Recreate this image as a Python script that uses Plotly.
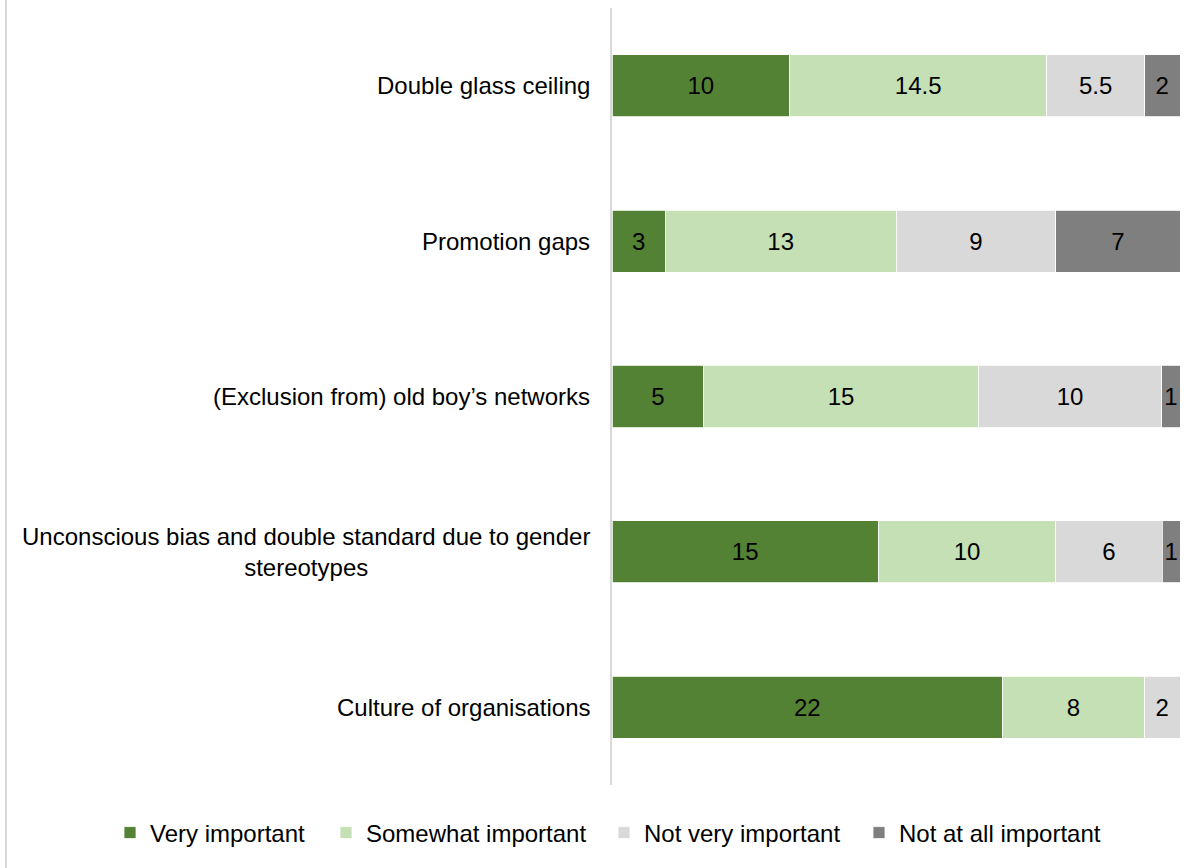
import plotly.graph_objects as go

# Survey responses: perceived importance of barriers, counts per category
categories = [
    "Double glass ceiling",
    "Promotion gaps",
    "(Exclusion from) old boy\u2019s networks",
    "Unconscious bias and double standard due to gender<br>stereotypes",
    "Culture of organisations",
]
very_important = [10, 3, 5, 15, 22]
somewhat_important = [14.5, 13, 15, 10, 8]
not_very_important = [5.5, 9, 10, 6, 2]
not_at_all_important = [2, 7, 1, 1, None]

series = [
    ("Very important", very_important, "#548235"),
    ("Somewhat important", somewhat_important, "#C5E0B4"),
    ("Not very important", not_very_important, "#D9D9D9"),
    ("Not at all important", not_at_all_important, "#7F7F7F"),
]

W, H = 1203, 868
M_L, M_R, M_T, M_B = 612, 23, 8, 83
PLOT_W = W - M_L - M_R
PLOT_H = H - M_T - M_B
FONT = "Liberation Sans, Arial, sans-serif"
FS = 24

# Left edge (px) of each legend entry along the bottom row
LEGEND_LEFT = [110, 326, 604, 859]
LEGEND_MID_Y = 833

fig = go.Figure()
for i, (name, vals, color) in enumerate(series):
    fig.add_trace(go.Bar(
        name=name,
        y=categories,
        x=vals,
        orientation="h",
        marker=dict(color=color, line=dict(color="white", width=0.8)),
        text=[f"{v:g}" if v else "" for v in vals],
        textposition="inside",
        insidetextanchor="middle",
        constraintext="none",
        textfont=dict(family=FONT, size=FS, color="#000000"),
        hoverinfo="skip",
        legend="legend" if i == 0 else f"legend{i + 1}",
    ))

# Category labels, centred per line like the wrapped label
annotations = [
    dict(
        x=0, xref="paper", y=c, yref="y",
        text=c, showarrow=False,
        xanchor="right", yanchor="middle", align="center",
        xshift=-20,
        font=dict(family=FONT, size=FS, color="#000000"),
    )
    for c in categories
]

# Thin frame line on the left edge of the chart area
shapes = [dict(
    type="line", xref="paper", yref="paper",
    x0=(6 - M_L) / PLOT_W, x1=(6 - M_L) / PLOT_W,
    y0=-M_B / PLOT_H, y1=1 + M_T / PLOT_H,
    line=dict(color="#D9D9D9", width=2),
)]

legends = {}
for i, left in enumerate(LEGEND_LEFT):
    key = "legend" if i == 0 else f"legend{i + 1}"
    legends[key] = dict(
        orientation="h",
        xref="paper", yref="paper",
        x=(left - M_L) / PLOT_W, xanchor="left",
        y=-(LEGEND_MID_Y - (H - M_B)) / PLOT_H, yanchor="middle",
        itemwidth=30,
        font=dict(family=FONT, size=FS, color="#000000"),
        bgcolor="rgba(0,0,0,0)",
    )

fig.update_layout(
    width=W, height=H,
    margin=dict(l=M_L, r=M_R, t=M_T, b=M_B, autoexpand=False),
    barmode="stack",
    barnorm="percent",
    bargap=0.6,
    paper_bgcolor="white",
    plot_bgcolor="white",
    font=dict(family=FONT, size=FS, color="#000000"),
    xaxis=dict(visible=False, range=[0, 100]),
    yaxis=dict(
        categoryorder="array",
        categoryarray=categories[::-1],
        showticklabels=False,
        showgrid=False,
        zeroline=False,
        showline=True,
        linecolor="#D9D9D9",
        linewidth=1.5,
        ticks="",
    ),
    annotations=annotations,
    shapes=shapes,
    showlegend=True,
    **legends,
)

fig.write_html("out.html")
